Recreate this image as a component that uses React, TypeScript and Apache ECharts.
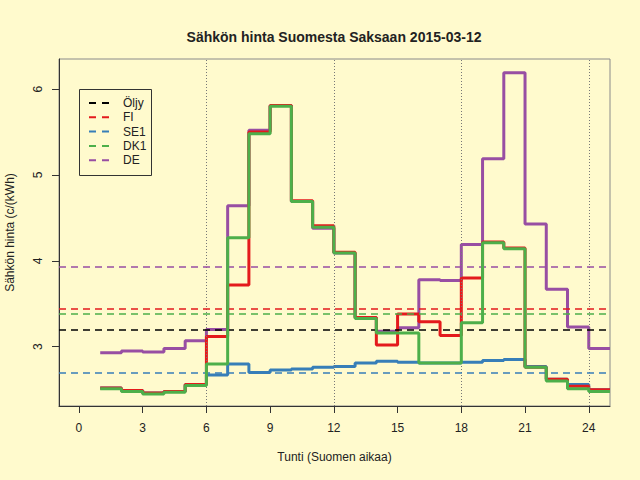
import { useEffect, useRef } from 'react'
import * as echarts from 'echarts'

// Tuntihinnat c/kWh, luettu kuvasta
const hours = [1, 2, 3, 4, 5, 6, 7, 8, 9, 10, 11, 12, 13, 14, 15, 16, 17, 18, 19, 20, 21, 22, 23, 24]
const fiPrices = [2.52, 2.49, 2.46, 2.48, 2.56, 3.12, 3.72, 5.50, 5.81, 4.70, 4.41, 4.10, 3.34, 3.02, 3.38, 3.29, 3.13, 3.80, 4.22, 4.15, 2.76, 2.62, 2.54, 2.50]
const se1Prices = [2.52, 2.49, 2.46, 2.48, 2.56, 2.67, 2.80, 2.70, 2.73, 2.74, 2.76, 2.77, 2.81, 2.83, 2.82, 2.81, 2.81, 2.82, 2.84, 2.85, 2.77, 2.62, 2.56, 2.50]
const dk1Prices = [2.51, 2.48, 2.45, 2.47, 2.55, 2.80, 4.27, 5.48, 5.80, 4.69, 4.39, 4.09, 3.33, 3.16, 3.16, 2.81, 2.81, 3.28, 4.21, 4.14, 2.76, 2.60, 2.51, 2.48]
const dePrices = [2.93, 2.95, 2.94, 2.98, 3.07, 3.20, 4.64, 5.52, 5.81, 4.69, 4.38, 4.09, 3.34, 3.18, 3.22, 3.78, 3.77, 4.19, 5.19, 6.19, 4.43, 3.67, 3.23, 2.98]
const oilPrice = 3.2
const xTicks = [0, 3, 6, 9, 12, 15, 18, 21, 24]
const yTicks = [3, 4, 5, 6]
const dayMarks = [6, 12, 18, 24]

const legendNames = ['Öljy', 'FI', 'SE1', 'DK1', 'DE']

const colors = {
  oil: '#000000',
  fi: '#e41a1c',
  se1: '#377eb8',
  dk1: '#4daf4a',
  de: '#984ea3'
}

const mean = (values: number[]) => values.reduce((a, b) => a + b, 0) / values.length

// R:n type="s": viimeinen tunti jatkuu seuraavaan
function stepData(values: number[]) {
  const pts = hours.map((h, i) => [h, values[i]])
  pts.push([hours[hours.length - 1] + 1, values[values.length - 1]])
  return pts
}

function stepSeries(name: string, values: number[], color: string, z: number) {
  return {
    name,
    type: 'line',
    step: 'end',
    data: stepData(values),
    showSymbol: false,
    silent: true,
    z,
    lineStyle: { color, width: 3 },
    itemStyle: { color }
  }
}

export default function App() {
  const chartRef = useRef<HTMLDivElement>(null)

  useEffect(() => {
    const host = chartRef.current
    if (!host) return

    const chart = echarts.init(host, null, { renderer: 'svg' })

    const font = '"Liberation Sans", Arial, Helvetica, sans-serif'
    const textColor = '#222222'

    const hLine = (value: number, color: string) => ({
      yAxis: value,
      lineStyle: { color, width: 1.5, type: [7, 5] }
    })
    const vLine = (value: number) => ({
      xAxis: value,
      lineStyle: { color: '#777777', width: 1, type: [1, 2] }
    })

    const legendRows = legendNames.map((name, i) => {
      const y = 103 + i * 14.3
      const color = [colors.oil, colors.fi, colors.se1, colors.dk1, colors.de][i]
      return [
        {
          type: 'line',
          shape: { x1: 89, y1: y, x2: 110, y2: y },
          style: { stroke: color, lineWidth: 2, lineDash: [7, 6] }
        },
        {
          type: 'text',
          x: 123,
          y,
          style: {
            text: name,
            fill: textColor,
            font: `12px ${font}`,
            verticalAlign: 'middle'
          }
        }
      ]
    }).flat()

    const option: echarts.EChartsOption = {
      animation: false,
      backgroundColor: '#fffacd',
      textStyle: { fontFamily: font },
      title: {
        text: 'Sähkön hinta Suomesta Saksaan 2015-03-12',
        left: 334,
        top: 30,
        padding: 0,
        textAlign: 'center',
        textStyle: { fontSize: 14, fontWeight: 'bold', color: textColor, fontFamily: font }
      },
      grid: {
        left: 59,
        right: 30,
        top: 59,
        bottom: 74,
        outerBoundsMode: 'none',
        show: true,
        borderColor: '#8a8a8a',
        borderWidth: 1,
        backgroundColor: 'transparent'
      },
      xAxis: {
        type: 'value',
        min: -0.94,
        max: 25,
        name: 'Tunti (Suomen aikaa)',
        nameLocation: 'middle',
        nameGap: 45,
        nameTextStyle: { fontSize: 12, color: textColor },
        axisLine: { onZero: false, lineStyle: { color: '#333333' } },
        axisTick: { length: 7, customValues: xTicks, lineStyle: { color: '#333333' } },
        axisLabel: { customValues: xTicks, fontSize: 12, color: textColor, margin: 16 },
        splitLine: { show: false }
      },
      yAxis: {
        type: 'value',
        min: 2.31,
        max: 6.35,
        name: 'Sähkön hinta (c/(kWh)',
        nameLocation: 'middle',
        nameGap: 43,
        nameTextStyle: { fontSize: 12, color: textColor },
        axisLine: { show: true, onZero: false, lineStyle: { color: '#333333' } },
        axisTick: { show: true, length: 7, customValues: yTicks, lineStyle: { color: '#333333' } },
        axisLabel: { customValues: yTicks, fontSize: 12, color: textColor, rotate: 90, margin: 15 },
        splitLine: { show: false }
      },
      series: [
        {
          name: 'Öljy',
          type: 'line',
          data: [],
          silent: true,
          z: 1,
          itemStyle: { color: colors.oil },
          markLine: {
            silent: true,
            symbol: 'none',
            label: { show: false },
            animation: false,
            data: [
              vLine(dayMarks[0]),
              vLine(dayMarks[1]),
              vLine(dayMarks[2]),
              vLine(dayMarks[3]),
              hLine(oilPrice, colors.oil),
              hLine(mean(fiPrices), colors.fi),
              hLine(mean(se1Prices), colors.se1),
              hLine(mean(dk1Prices), colors.dk1),
              hLine(mean(dePrices), colors.de)
            ]
          }
        },
        stepSeries('DE', dePrices, colors.de, 2),
        stepSeries('SE1', se1Prices, colors.se1, 3),
        stepSeries('FI', fiPrices, colors.fi, 4),
        stepSeries('DK1', dk1Prices, colors.dk1, 5)
      ],
      graphic: [
        {
          type: 'rect',
          shape: { x: 79.5, y: 89.5, width: 72, height: 86 },
          style: { fill: 'transparent', stroke: '#333333', lineWidth: 1 },
          z: 10
        },
        ...legendRows.map(el => ({ ...el, z: 10 }))
      ]
    }

    chart.setOption(option)

    return () => {
      chart.dispose()
    }
  }, [])

  return (
    <div
      ref={chartRef}
      style={{ position: 'fixed', left: 0, top: 0, width: 640, height: 480 }}
    />
  )
}
